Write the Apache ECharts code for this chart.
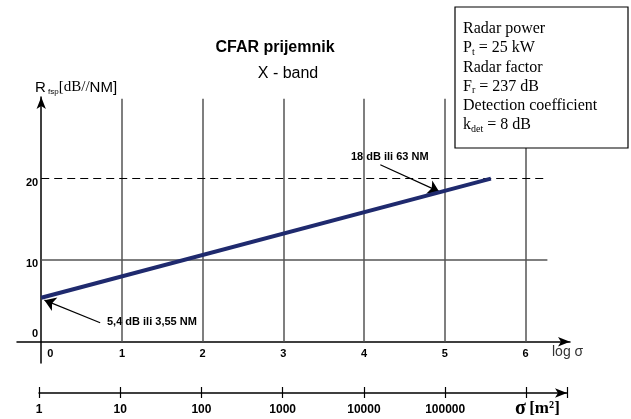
<!DOCTYPE html>
<html>
<head>
<meta charset="utf-8">
<script src="https://cdn.jsdelivr.net/npm/echarts@6/dist/echarts.min.js"></script>
<style>
  html, body { margin: 0; padding: 0; background: #fff; }
  #chart { width: 631px; height: 419px; }
</style>
</head>
<body>
<div id="chart"></div>
<script>
// log sigma ticks and the matching sigma [m2] labels on the lower scale
var logTicks    = [0, 1, 2, 3, 4, 5, 6];
var sigmaLabels = ['1', '10', '100', '1000', '10000', '100000', ''];
var yTicks      = [0, 10, 20];

// R_fsp line (log sigma, dB)
var rfspLine = [[0, 5.4], [5.57, 20]];

// reference levels and extent of the grid
var levelSolid  = 10;
var levelDashed = 20;
var gridYTop    = 29.8;
var gridXEnd    = 6.27;

// annotations: arrow from text towards the line
var notes = [
    { text: '5,4 dB ili 3,55 NM', from: [0.73, 2.33], to: [0.04, 5.1] },
    { text: '18 dB ili 63 NM',    from: [4.2, 21.7],  to: [4.93, 18.4] }
];

var boxLines = [
    '{m|Radar power}',
    '{m|P}{s|t}{m| = 25 kW}',
    '{m|Radar factor}',
    '{m|F}{s|r}{m| = 237 dB}',
    '{m|Detection coefficient}',
    '{m|k}{s|det}{m| = 8 dB}'
];

(function () {
    var chart = echarts.init(document.getElementById('chart'));

    var sans  = 'Liberation Sans, Arial, sans-serif';
    var serif = 'Liberation Serif, Times New Roman, serif';

    // axes cross at (0,0), which sits inside the grid: shift both axes there
    var xMin = -0.3, xMax = 6.55, yMin = -2.6, yMax = 30;
    var gLeft = 17, gTop = 97, gW = 553, gH = 266;
    var yAxisShift = -(0 - xMin) / (xMax - xMin) * gW;
    var xAxisShift = -(0 - yMin) / (yMax - yMin) * gH;

    var gridLines = logTicks.filter(function (v) { return v > 0; }).map(function (v) {
        return [{ coord: [v, 0] }, { coord: [v, gridYTop] }];
    });
    gridLines.push([{ coord: [0, levelSolid] }, { coord: [gridXEnd, levelSolid] }]);
    gridLines.push([
        { coord: [0, levelDashed], lineStyle: { type: [8, 5], color: '#000', width: 1.2 } },
        { coord: [gridXEnd, levelDashed] }
    ]);

    var boxRich = {
        m: { fontFamily: serif, fontSize: 16, lineHeight: 18, fill: '#000' },
        s: { fontFamily: serif, fontSize: 10, lineHeight: 10, verticalAlign: 'bottom', fill: '#000' }
    };
    var boxText = boxLines.map(function (t, i) {
        return {
            type: 'text', left: 463, top: 21 + i * 19.2, z: 101,
            style: { text: t, rich: boxRich }
        };
    });

    var noteText = [
        { type: 'text', left: 107, top: 316, style: { text: notes[0].text, font: 'bold 11px ' + sans, fill: '#000' } },
        { type: 'text', left: 351, top: 151, style: { text: notes[1].text, font: 'bold 11px ' + sans, fill: '#000' } }
    ];

    chart.setOption({
        animation: false,
        backgroundColor: '#fff',
        title: [
            { text: 'CFAR prijemnik', left: 270, top: 35, textAlign: 'center',
              textStyle: { fontFamily: sans, fontSize: 16, fontWeight: 'bold', color: '#000' } },
            { text: 'X - band', left: 283, top: 61, textAlign: 'center',
              textStyle: { fontFamily: sans, fontSize: 16, fontWeight: 'normal', color: '#000' } }
        ],
        grid: [
            { left: gLeft, top: gTop, width: gW, height: gH },
            { left: 39, top: 387, width: 528, height: 6 }
        ],
        xAxis: [
            {
                gridIndex: 0, type: 'value', min: xMin, max: xMax, offset: xAxisShift,
                axisLine: { onZero: false, symbol: ['none', 'arrow'], symbolSize: [7, 12],
                            lineStyle: { color: '#000', width: 1.5 } },
                axisTick: { show: false },
                splitLine: { show: false },
                axisLabel: {
                    customValues: logTicks, margin: 7,
                    fontFamily: sans, fontSize: 11, fontWeight: 'bold', color: '#000',
                    formatter: function (v) { return v === 0 ? '{z|0}' : String(v); },
                    rich: { z: { fontFamily: sans, fontSize: 11, fontWeight: 'bold', color: '#000', padding: [0, 0, 0, 18] } }
                }
            },
            {
                gridIndex: 1, type: 'value', min: 0, max: 6.5, interval: 1, position: 'bottom',
                axisLine: { onZero: false, symbol: ['none', 'arrow'], symbolSize: [7, 12],
                            lineStyle: { color: '#000', width: 1.5 } },
                axisTick: { show: true, length: 5, lineStyle: { color: '#000', width: 1.2 } },
                splitLine: { show: true, lineStyle: { color: '#000', width: 1.2 } },
                axisLabel: {
                    margin: 11, fontFamily: sans, fontSize: 12, fontWeight: 'bold', color: '#000',
                    formatter: function (v) { return sigmaLabels[v] || ''; }
                }
            }
        ],
        yAxis: [
            {
                gridIndex: 0, type: 'value', min: yMin, max: yMax, offset: yAxisShift,
                axisLine: { show: true, onZero: false, symbol: ['none', 'arrow'], symbolSize: [7, 12],
                            lineStyle: { color: '#000', width: 1.5 } },
                axisTick: { show: false },
                splitLine: { show: false },
                axisLabel: {
                    customValues: yTicks, margin: 3,
                    formatter: function (v) { return v === 0 ? '{up|0}' : '{dn|' + v + '}'; },
                    rich: {
                        up: { fontFamily: sans, fontSize: 11, fontWeight: 'bold', color: '#000', padding: [0, 0, 16, 0] },
                        dn: { fontFamily: sans, fontSize: 11, fontWeight: 'bold', color: '#000', padding: [8, 0, 0, 0] }
                    }
                }
            },
            { gridIndex: 1, type: 'value', min: 0, max: 1, show: false }
        ],
        series: [
            {
                name: 'grid', type: 'line', xAxisIndex: 0, yAxisIndex: 0, data: [],
                markLine: {
                    silent: true, symbol: 'none', label: { show: false },
                    lineStyle: { color: '#555', width: 1.5, type: 'solid' },
                    data: gridLines
                }
            },
            {
                name: 'R fsp', type: 'line', xAxisIndex: 0, yAxisIndex: 0, z: 5,
                data: rfspLine, showSymbol: false, symbol: 'none',
                lineStyle: { color: '#1f2a6e', width: 4 }
            },
            {
                name: 'notes', type: 'line', xAxisIndex: 0, yAxisIndex: 0, data: [], z: 6,
                markLine: {
                    silent: true, symbol: ['none', 'arrow'], symbolSize: 11,
                    label: { show: false },
                    lineStyle: { color: '#000', width: 1.2, type: 'solid' },
                    data: notes.map(function (n) { return [{ coord: n.from }, { coord: n.to }]; })
                }
            }
        ],
        graphic: [
            { type: 'rect', shape: { x: 455, y: 7, width: 173, height: 141 }, z: 100,
              style: { fill: '#fff', stroke: '#000', lineWidth: 1.2 } },
            { type: 'text', left: 35, top: 80, z: 101,
              style: {
                  text: '{r|R}{s| fsp}{b|[dB//}{r|NM]}',
                  rich: {
                      r: { fontFamily: sans, fontSize: 15, lineHeight: 17, fill: '#000' },
                      s: { fontFamily: sans, fontSize: 8, lineHeight: 8, verticalAlign: 'bottom', fill: '#000' },
                      b: { fontFamily: serif, fontSize: 15, lineHeight: 17, fill: '#000' }
                  }
              } },
            { type: 'text', left: 552, top: 345, style: { text: 'log σ', font: '14px ' + sans, fill: '#333' } },
            { type: 'text', left: 515, top: 399,
              style: {
                  text: '{g|σ} {b|[m²]}',
                  rich: {
                      g: { fontFamily: serif, fontSize: 20, fontWeight: 'bold', fill: '#000' },
                      b: { fontFamily: serif, fontSize: 17, fontWeight: 'bold', fill: '#000' }
                  }
              } }
        ].concat(boxText, noteText)
    });

    window.addEventListener('resize', function () { chart.resize(); });
})();
</script>
</body>
</html>
